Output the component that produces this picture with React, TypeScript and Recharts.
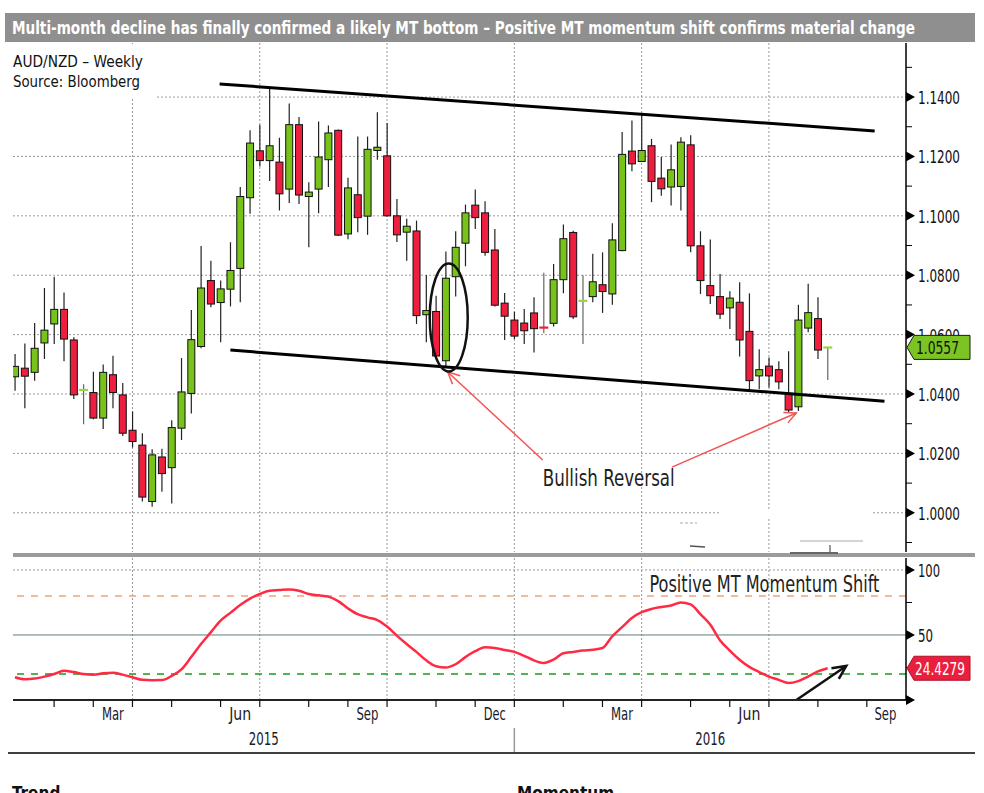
import React from "react";
import {
  ComposedChart,
  Bar,
  Line,
  XAxis,
  YAxis,
  CartesianGrid,
  ReferenceLine,
  ReferenceDot,
} from "recharts";

const FONT = "'Liberation Sans Narrow', 'DejaVu Sans Condensed', 'Liberation Sans', Arial, sans-serif";

// AUD/NZD weekly bars, first bar = week of 9 Jan 2015 (index 0)
const opens = [
  1.0458, 1.0487, 1.0473, 1.0572, 1.0636, 1.0685, 1.0582, 1.0412, 1.0405, 1.0319,
  1.0465, 1.0397, 1.0278, 1.0228, 1.0038, 1.0188, 1.0152, 1.0285, 1.0402, 1.056,
  1.0782, 1.0708, 1.0753, 1.0823, 1.1061, 1.1219, 1.1186, 1.1181, 1.109, 1.1307,
  1.1065, 1.109, 1.1189, 1.1288, 1.0939, 1.1071, 1.0999, 1.122, 1.1202, 1.1,
  1.0945, 1.0949, 1.0667, 1.0678, 1.0512, 1.0795, 1.0908, 1.1036, 1.101, 1.0885,
  1.0706, 1.0649, 1.0639, 1.0673, 1.0624, 1.0638, 1.0785, 1.0944, 1.0712, 1.0728,
  1.0768, 1.0737, 1.0883, 1.1218, 1.1183, 1.1236, 1.1127, 1.1097, 1.1099, 1.1239,
  1.0899, 1.0765, 1.0728, 1.069, 1.0709, 1.0611, 1.0461, 1.0494, 1.0482, 1.0402,
  1.0357, 1.0622, 1.0654, 1.0553,
];
const highs = [
  1.0535, 1.057, 1.0639, 1.0757, 1.0795, 1.0742, 1.0591, 1.0433, 1.0475, 1.0499,
  1.0529, 1.0437, 1.0341, 1.0268, 1.0214, 1.0216, 1.0312, 1.0521, 1.0683, 1.0898,
  1.0849, 1.0782, 1.0911, 1.1097, 1.1288, 1.1307, 1.1434, 1.1263, 1.1378, 1.1333,
  1.1113, 1.1318, 1.1304, 1.1291, 1.1128, 1.1267, 1.1267, 1.1349, 1.1313, 1.1057,
  1.099, 1.0984, 1.0801, 1.0731, 1.088, 1.0948, 1.1038, 1.1089, 1.1049, 1.0956,
  1.074, 1.0677, 1.0686, 1.0726, 1.0808, 1.0838, 1.0971, 1.095, 1.08, 1.0872,
  1.0877, 1.0975, 1.1282, 1.1321, 1.1344, 1.1259, 1.1198, 1.124, 1.1265, 1.1271,
  1.0948, 1.092, 1.0804, 1.0746, 1.0776, 1.0739, 1.0551, 1.0523, 1.051, 1.0544,
  1.0701, 1.0771, 1.0726, 1.0558,
];
const lows = [
  1.0411, 1.0352, 1.0445, 1.0518, 1.0568, 1.051, 1.0383, 1.0298, 1.0315, 1.0282,
  1.0352, 1.0259, 1.022, 1.0038, 1.002, 1.0071, 1.0031, 1.0245, 1.0334, 1.0554,
  1.0692, 1.0574, 1.0695, 1.0709, 1.1007, 1.1166, 1.1117, 1.1018, 1.1043, 1.104,
  1.0894, 1.1009, 1.1097, 1.0932, 1.0921, 1.0945, 1.0936, 1.1189, 1.0998, 1.0912,
  1.0849, 1.0636, 1.0574, 1.0521, 1.049, 1.0728, 1.083, 1.0956, 1.0866, 1.0695,
  1.0582, 1.0585, 1.0568, 1.054, 1.0605, 1.0627, 1.0739, 1.0653, 1.0568, 1.0709,
  1.0673, 1.0701, 1.0881, 1.115, 1.1181, 1.1046, 1.1068, 1.1035, 1.1018, 1.0877,
  1.0737, 1.0703, 1.0653, 1.0619, 1.0526, 1.0411, 1.0416, 1.0422, 1.0416, 1.0338,
  1.0343, 1.0608, 1.0518, 1.0447,
];
const closes = [
  1.0493, 1.046, 1.0554, 1.0615, 1.0685, 1.0585, 1.0397, 1.0414, 1.0319, 1.0473,
  1.0405, 1.0268, 1.024, 1.0053, 1.0195, 1.0132, 1.0287, 1.0407, 1.0583, 1.0757,
  1.0703, 1.0754, 1.0816, 1.1065, 1.1245, 1.1186, 1.1236, 1.1074, 1.1307, 1.107,
  1.108, 1.1198, 1.1279, 1.0935, 1.1094, 1.0994, 1.1224, 1.1231, 1.1, 1.0936,
  1.0965, 1.0664, 1.0681, 1.0528, 1.079, 1.0894, 1.101, 1.0994, 1.0877, 1.0699,
  1.0662, 1.0595, 1.0613, 1.062, 1.062, 1.0785, 1.0923, 1.066, 1.0714, 1.0778,
  1.0745, 1.0919, 1.1207, 1.1175, 1.122, 1.1116, 1.1091, 1.1155, 1.1248, 1.0899,
  1.0782, 1.0731, 1.0669, 1.0723, 1.0582, 1.0445, 1.0482, 1.0461, 1.0441, 1.0346,
  1.0649, 1.0674, 1.0548, 1.0557,
];

// MT momentum oscillator
const momentum = [
  17.5, 16, 16.5, 18, 20, 22.5, 21.5, 20, 19.5, 20.5,
  21, 19.5, 17.5, 15.5, 15.2, 15.3, 18.5, 23.5, 33, 43,
  52, 61, 67, 73, 78, 81.5, 84, 84.5, 85, 84,
  81.5, 80.5, 79.5, 76, 70.5, 66, 63.5, 61.5, 56.5, 49.5,
  43, 37, 30.5, 26, 25, 27.5, 33, 37.5, 40.5, 40,
  38.5, 37, 34, 30.5, 28.5, 31, 36, 37, 38, 38.7,
  40, 49, 56, 63, 67.5, 70, 71.5, 72.7, 75, 73.5,
  66, 58, 46, 38, 31, 25.5, 21.5, 18, 15.5, 13,
  14.5, 18, 22, 24.4279,
];

const majorPriceTicks = [1.0, 1.02, 1.04, 1.06, 1.08, 1.1, 1.12, 1.14];
const minorPriceTicks = [0.99, 1.01, 1.03, 1.05, 1.07, 1.09, 1.11, 1.13, 1.15];
const majorMomTicks = [50, 100];
const minorMomTicks = [25, 75];
const zeroMomTick = [0];

// x positions in bar index
const quarterLines = [12, 25, 38, 51, 64, 77];
const monthTicks = [4, 8, 12, 16, 21, 25, 30, 34, 38, 43, 47, 51, 56, 60, 64, 69, 73, 77, 82, 87];
const quarterLabelPos = [10, 23, 36, 49, 62, 75, 88.9];
const quarterLabelText = ["Mar", "Jun", "Sep", "Dec", "Mar", "Jun", "Sep"];
const yearLabelPos = [25.4, 71];
const yearLabelText = ["2015", "2016"];
const yearBreaks = [51];

// annotations (data coords)
const upperChannel = [{ x: 20.9, y: 1.1444 }, { x: 87.8, y: 1.1286 }];
const lowerChannel = [{ x: 22.0, y: 1.0548 }, { x: 88.8, y: 1.0376 }];
const arrowToEllipse = [{ x: 53.9, y: 1.0178 }, { x: 44.2, y: 1.0474 }];
const arrowToBottom = [{ x: 67.1, y: 1.0154 }, { x: 79.8, y: 1.0336 }];
const momArrow = [{ x: 79.8, y: 0 }, { x: 84.9, y: 26.2 }];
const ellipseCenter = { x: 44.3, y: 1.0658 };
const bullishPos = { x: 53.9, y: 1.0117 };
const shiftPos = { x: 64.8, y: 89.2 };

const xDomain = [-0.2, 91];
const priceDomain = [0.9868, 1.1582];
const momDomain = [0, 109.2];

const lastClose = closes[closes.length - 1];
const lastMom = momentum[momentum.length - 1];

const candles = opens.map((o, i) => ({
  i,
  open: o,
  high: highs[i],
  low: lows[i],
  close: closes[i],
  range: [lows[i], highs[i]],
}));
const momRows = momentum.map((m, i) => ({ i, mom: m }));

const GREEN = "#78c31a";
const RED = "#ee1e3f";
const has = (arr: number[], v: number) => arr.some((t) => Math.abs(t - v) < 1e-9);

function Candle(props: any) {
  const { x, y, width, height, payload } = props;
  if (!payload || x == null) return null;
  const top = Math.min(y, y + height);
  const h = Math.abs(height);
  const { open, high, low, close } = payload;
  const k = h / (high - low);
  const cx = x + width / 2;
  const bodyTop = top + (high - Math.max(open, close)) * k;
  const bodyBot = top + (high - Math.min(open, close)) * k;
  const up = close >= open;
  const doji = Math.abs(close - open) < 0.0006;
  if (doji) {
    return (
      <g>
        <line x1={cx} x2={cx} y1={top} y2={top + h} stroke="#666" strokeWidth={1.2} />
        <rect x={cx - 4.5} y={bodyTop - 1} width={9} height={2.2} fill={up ? "#9ad44c" : RED} />
      </g>
    );
  }
  return (
    <g>
      <line x1={cx} x2={cx} y1={top} y2={top + h} stroke="#222" strokeWidth={1.2} />
      <rect
        x={cx - 3.5}
        y={bodyTop}
        width={7}
        height={Math.max(bodyBot - bodyTop, 1)}
        fill={up ? GREEN : RED}
        stroke="#111"
        strokeWidth={1}
      />
    </g>
  );
}

function PriceTick(props: any) {
  const { x, y, payload } = props;
  const v = payload.value;
  if (v === lastClose) {
    return (
      <g>
        <path
          d={`M${x + 1},${y} L${x + 8},${y - 12} L${x + 64},${y - 12} L${x + 64},${y + 12} L${x + 8},${y + 12} Z`}
          fill="#7cc423"
          stroke="#1a1a1a"
          strokeWidth={1}
        />
        <text x={x + 10} y={y + 1} dominantBaseline="central" fontSize={17} fontFamily={FONT} fill="#111" textLength={43} lengthAdjust="spacingAndGlyphs">
          {v.toFixed(4)}
        </text>
      </g>
    );
  }
  if (has(majorPriceTicks, v)) {
    return (
      <g>
        <path d={`M${x},${y - 5} L${x + 9},${y} L${x},${y + 5} Z`} fill="#000" />
        <text x={x + 12} y={y + 1} dominantBaseline="central" fontSize={17} fontFamily={FONT} fill="#111" textLength={42} lengthAdjust="spacingAndGlyphs">
          {v.toFixed(4)}
        </text>
      </g>
    );
  }
  return <line x1={x} x2={x + 6} y1={y} y2={y} stroke="#000" strokeWidth={1} />;
}

function MomTick(props: any) {
  const { x, y, payload } = props;
  const v = payload.value;
  if (v === lastMom) {
    return (
      <g>
        <path
          d={`M${x + 1},${y} L${x + 8},${y - 12} L${x + 64},${y - 12} L${x + 64},${y + 12} L${x + 8},${y + 12} Z`}
          fill="#ea1f3e"
          stroke="#b0102a"
          strokeWidth={1}
        />
        <text x={x + 9} y={y + 1} dominantBaseline="central" fontSize={17} fontFamily={FONT} fill="#fff" textLength={50} lengthAdjust="spacingAndGlyphs">
          {v.toFixed(4)}
        </text>
      </g>
    );
  }
  if (has(majorMomTicks, v) || has(zeroMomTick, v)) {
    return (
      <g>
        <path d={`M${x},${y - 5} L${x + 9},${y} L${x},${y + 5} Z`} fill="#000" />
        {has(majorMomTicks, v) && (
          <text x={x + 12} y={y + 1} dominantBaseline="central" fontSize={17} fontFamily={FONT} fill="#111" textLength={v >= 100 ? 22 : 15} lengthAdjust="spacingAndGlyphs">
            {String(v)}
          </text>
        )}
      </g>
    );
  }
  return <line x1={x} x2={x + 6} y1={y} y2={y} stroke="#000" strokeWidth={1} />;
}

function TimeTick(props: any) {
  const { x, y, payload } = props;
  const v = payload.value;
  const qi = quarterLabelPos.findIndex((t) => Math.abs(t - v) < 1e-9);
  const yi = yearLabelPos.findIndex((t) => Math.abs(t - v) < 1e-9);
  return (
    <g>
      {has(monthTicks, v) && <line x1={x} x2={x} y1={y} y2={y + 7} stroke="#111" strokeWidth={1.2} />}
      {has(yearBreaks, v) && <line x1={x} x2={x} y1={y + 28} y2={y + 52} stroke="#999" strokeWidth={1.5} />}
      {qi >= 0 && (
        <text x={x} y={y + 14} textAnchor="middle" dominantBaseline="central" fontSize={17} fontFamily={FONT} fill="#1a1a2a" textLength={22} lengthAdjust="spacingAndGlyphs">
          {quarterLabelText[qi]}
        </text>
      )}
      {yi >= 0 && (
        <text x={x} y={y + 39} textAnchor="middle" dominantBaseline="central" fontSize={17} fontFamily={FONT} fill="#1a1a2a" textLength={30} lengthAdjust="spacingAndGlyphs">
          {yearLabelText[yi]}
        </text>
      )}
    </g>
  );
}

const arrowShape = (color: string, w: number, head: number) => (p: any) => {
  const { x1, y1, x2, y2 } = p;
  const a = Math.atan2(y2 - y1, x2 - x1);
  const s = 0.45;
  const hx1 = x2 - head * Math.cos(a - s);
  const hy1 = y2 - head * Math.sin(a - s);
  const hx2 = x2 - head * Math.cos(a + s);
  const hy2 = y2 - head * Math.sin(a + s);
  return (
    <g>
      <line x1={x1} y1={y1} x2={x2} y2={y2} stroke={color} strokeWidth={w} />
      <polyline points={`${hx1},${hy1} ${x2},${y2} ${hx2},${hy2}`} fill="none" stroke={color} strokeWidth={w} />
    </g>
  );
};

const TITLE =
  "Multi-month decline has finally confirmed a likely MT bottom \u2013 Positive MT momentum shift confirms material change";

export default function App() {
  return (
    <div
      style={{
        position: "absolute",
        left: 0,
        top: 0,
        width: 984,
        height: 793,
        background: "#fff",
        overflow: "hidden",
        fontFamily: FONT,
      }}
    >
      <div style={{ position: "absolute", left: 0, top: 0 }}>
        <ComposedChart width={984} height={560} data={candles} margin={{ top: 43, right: 0, bottom: 8, left: 13 }}>
          <CartesianGrid
            horizontalValues={majorPriceTicks}
            verticalValues={quarterLines}
            stroke="#999"
            strokeDasharray="2 2"
          />
          <XAxis type="number" dataKey="i" domain={xDomain} allowDataOverflow hide />
          <YAxis
            orientation="right"
            type="number"
            domain={priceDomain}
            allowDataOverflow
            width={78}
            ticks={[...minorPriceTicks, ...majorPriceTicks, lastClose]}
            interval={0}
            tickSize={0}
            tickMargin={0}
            tickLine={false}
            axisLine={{ stroke: "#000", strokeWidth: 1.5 }}
            tick={(p: any) => <PriceTick {...p} />}
          />
          <Bar dataKey="range" barSize={8} isAnimationActive={false} shape={(p: any) => <Candle {...p} />} />
          <ReferenceLine segment={upperChannel} stroke="#000" strokeWidth={3} />
          <ReferenceLine segment={lowerChannel} stroke="#000" strokeWidth={3} />
          <ReferenceDot
            x={ellipseCenter.x}
            y={ellipseCenter.y}
            shape={(p: any) => (
              <ellipse cx={p.cx} cy={p.cy} rx={19} ry={54} fill="none" stroke="#111" strokeWidth={2.5} />
            )}
          />
          <ReferenceLine segment={arrowToEllipse} shape={arrowShape("#f25555", 1.5, 13)} />
          <ReferenceLine segment={arrowToBottom} shape={arrowShape("#f25555", 1.5, 13)} />
          <ReferenceDot
            x={bullishPos.x}
            y={bullishPos.y}
            shape={(p: any) => (
              <text x={p.cx} y={p.cy} dominantBaseline="central" fontSize={23} fontFamily={FONT} fill="#222" textLength={132} lengthAdjust="spacingAndGlyphs">
                Bullish Reversal
              </text>
            )}
          />
        </ComposedChart>
      </div>

      <div style={{ position: "absolute", left: 0, top: 540 }}>
        <ComposedChart width={984} height={253} data={momRows} margin={{ top: 18, right: 0, bottom: 33, left: 13 }}>
          <CartesianGrid horizontalValues={[100]} verticalValues={quarterLines} stroke="#999" strokeDasharray="2 2" />
          <XAxis
            type="number"
            dataKey="i"
            domain={xDomain}
            allowDataOverflow
            height={60}
            ticks={[...monthTicks, ...quarterLabelPos, ...yearLabelPos]}
            interval={0}
            tickSize={0}
            tickMargin={0}
            tickLine={false}
            axisLine={{ stroke: "#222", strokeWidth: 2 }}
            tick={(p: any) => <TimeTick {...p} />}
          />
          <YAxis
            orientation="right"
            type="number"
            domain={momDomain}
            allowDataOverflow
            width={78}
            ticks={[...zeroMomTick, ...minorMomTicks, ...majorMomTicks, lastMom]}
            interval={0}
            tickSize={0}
            tickMargin={0}
            tickLine={false}
            axisLine={{ stroke: "#000", strokeWidth: 1.5 }}
            tick={(p: any) => <MomTick {...p} />}
          />
          <ReferenceLine y={80} stroke="#f4a07a" strokeWidth={1.5} strokeDasharray="7 7" />
          <ReferenceLine y={50} stroke="#5f7f78" strokeWidth={1} />
          <ReferenceLine y={20} stroke="#1b9a1b" strokeWidth={1.5} strokeDasharray="7 7" />
          <Line
            type="monotone"
            dataKey="mom"
            stroke="#ff2b45"
            strokeWidth={2.5}
            dot={false}
            isAnimationActive={false}
          />
          <ReferenceLine segment={momArrow} shape={arrowShape("#111", 2.5, 15)} />
          <ReferenceDot
            x={shiftPos.x}
            y={shiftPos.y}
            shape={(p: any) => (
              <text x={p.cx} y={p.cy} dominantBaseline="central" fontSize={23} fontFamily={FONT} fill="#222" textLength={230} lengthAdjust="spacingAndGlyphs">
                Positive MT Momentum Shift
              </text>
            )}
          />
        </ComposedChart>
      </div>

      <svg width={984} height={793} style={{ position: "absolute", left: 0, top: 0, pointerEvents: "none" }}>
        <rect x={5} y={13} width={970} height={29} fill="#8f8f8f" />
        <text x={12} y={28} dominantBaseline="central" fill="#fff" fontWeight="bold" fontSize={17} fontFamily={FONT} textLength={903} lengthAdjust="spacingAndGlyphs">
          {TITLE}
        </text>
        <rect x={8} y={44} width={149} height={55} fill="#fff" />
        <text x={13} y={62} dominantBaseline="central" fontSize={15} fontFamily={FONT} fill="#111" textLength={130} lengthAdjust="spacingAndGlyphs">
          AUD/NZD – Weekly
        </text>
        <text x={13} y={82} dominantBaseline="central" fontSize={15} fontFamily={FONT} fill="#111" textLength={127} lengthAdjust="spacingAndGlyphs">
          Source: Bloomberg
        </text>
        <rect x={720} y={511} width={153} height={6} fill="#fff" />
        <line x1={680} y1={523} x2={697} y2={523} stroke="#aaa" strokeWidth={1} strokeDasharray="3 2" />
        <line x1={690} y1={546} x2={705} y2={547} stroke="#555" strokeWidth={1.5} />
        <line x1={800} y1={541} x2={863} y2={541} stroke="#aaa" strokeWidth={1} />
        <line x1={830} y1={545} x2={830} y2={553} stroke="#555" strokeWidth={1.2} />
        <rect x={13} y={553} width={962} height={4} fill="#9b9b9b" />
        <line x1={790} y1={553} x2={838} y2={553} stroke="#666" strokeWidth={2} />
        <line x1={8} y1={753} x2={975} y2={753} stroke="#000" strokeWidth={1.5} />
        <text x={12} y={799} fontWeight="bold" fontSize={17} fontFamily={FONT} fill="#111">
          Trend
        </text>
        <text x={517} y={799} fontWeight="bold" fontSize={17} fontFamily={FONT} fill="#111">
          Momentum
        </text>
      </svg>
    </div>
  );
}
